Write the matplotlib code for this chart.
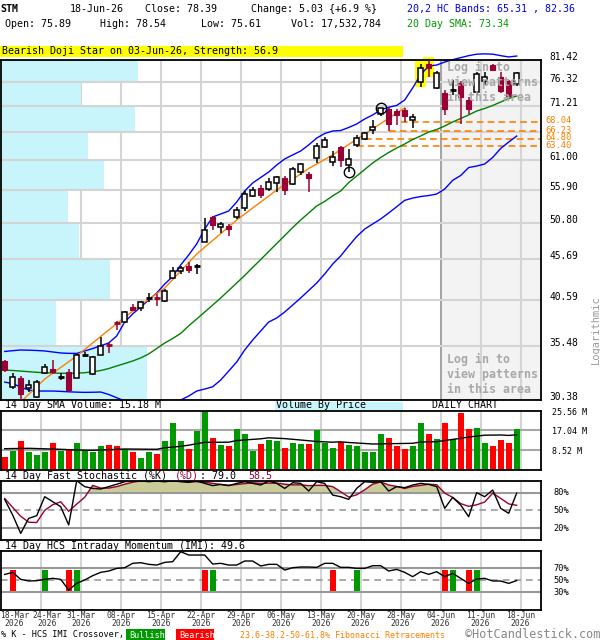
import matplotlib
matplotlib.use("Agg")
import matplotlib.pyplot as plt
import matplotlib.transforms as mtrans
from matplotlib.patches import Rectangle
from matplotlib.ticker import NullLocator
import numpy as np

plt.rcParams['font.family'] = ['DejaVu Sans Mono']

# daily candles 18-Mar-26 .. 18-Jun-26
opens = [34.02, 31.52, 32.38, 31.42, 30.67, 32.83, 33.24, 32.50, 32.98, 32.41,
         34.60, 32.76, 34.62, 35.72, 38.00, 38.05, 39.82, 39.63, 40.86, 40.83,
         40.52, 43.24, 44.20, 44.85, 44.84, 48.07, 51.61, 50.21, 50.31, 51.66,
         52.96, 54.87, 56.21, 55.96, 56.95, 57.87, 56.79, 58.89, 58.50, 61.23,
         63.27, 60.58, 63.27, 59.99, 63.68, 64.69, 66.40, 69.67, 70.58, 70.17,
         70.49, 68.48, 76.33, 80.55, 75.13, 73.90, 74.55, 76.07, 72.44, 74.20,
         76.57, 80.32, 77.56, 76.57, 75.89]
highs = [34.12, 32.88, 32.57, 32.19, 32.19, 33.70, 34.12, 32.85, 33.21, 34.69,
         34.95, 34.47, 36.47, 35.91, 38.23, 39.33, 40.13, 40.52, 41.39, 41.27,
         41.91, 44.72, 44.85, 45.29, 45.03, 51.45, 51.80, 50.87, 50.57, 53.12,
         55.74, 56.39, 56.67, 57.77, 58.21, 58.16, 59.75, 60.44, 58.89, 63.95,
         65.21, 62.45, 63.45, 62.95, 65.44, 66.08, 68.36, 70.91, 70.85, 70.58,
         70.79, 69.59, 80.55, 81.35, 78.80, 74.57, 76.90, 76.57, 73.19, 78.64,
         78.64, 80.55, 78.64, 76.79, 78.54]
lows = [32.95, 31.33, 30.40, 31.11, 30.55, 32.76, 32.73, 32.19, 31.11, 32.35,
        34.39, 32.66, 34.57, 34.79, 37.22, 37.94, 39.33, 39.36, 40.40, 39.94,
        40.33, 43.11, 43.77, 43.86, 43.77, 47.99, 49.73, 49.34, 48.92, 51.35,
        52.55, 54.67, 54.61, 55.74, 55.58, 55.03, 56.67, 58.33, 55.58, 60.33,
        63.09, 59.96, 59.70, 58.90, 63.27, 64.50, 65.75, 69.28, 66.27, 67.50,
        68.02, 66.85, 75.35, 77.49, 74.77, 69.38, 73.55, 67.69, 69.72, 73.55,
        75.65, 78.78, 73.90, 73.19, 75.61]
closes = [33.14, 32.44, 30.91, 31.72, 32.03, 33.40, 32.92, 32.52, 31.27, 34.62,
          34.62, 34.39, 35.56, 35.68, 37.96, 39.18, 39.44, 40.36, 40.88, 40.79,
          41.70, 44.20, 44.59, 44.29, 44.86, 49.73, 50.46, 50.57, 49.83, 52.70,
          55.19, 55.85, 55.03, 57.21, 57.94, 55.85, 59.30, 60.16, 57.77, 63.45,
          64.56, 61.46, 60.88, 61.16, 64.94, 65.94, 66.98, 70.84, 67.69, 69.37,
          69.18, 69.02, 79.58, 79.58, 78.42, 70.72, 74.57, 73.19, 70.72, 78.13,
          77.56, 79.00, 74.42, 73.36, 78.39]

# 20,2 HC bands and 20 day SMA
band_upper = [34.97, 35.05, 35.12, 35.10, 35.07, 35.02, 34.92, 34.82, 34.78, 34.77,
              35.02, 35.27, 35.56, 35.84, 36.58, 38.09, 38.99, 39.78, 40.60, 41.43,
              42.52, 43.46, 44.94, 46.26, 47.76, 49.87, 51.65, 52.10, 52.55, 53.94,
              55.69, 57.00, 57.91, 58.84, 60.05, 61.11, 61.83, 62.54, 63.65, 64.93,
              65.79, 66.27, 66.36, 66.95, 67.63, 68.62, 69.43, 70.43, 71.00, 71.37,
              72.50, 75.09, 78.06, 80.01, 80.24, 80.94, 81.50, 81.97, 82.45, 82.81,
              82.88, 82.81, 82.45, 82.14, 82.36]
band_lower = [32.00, 31.86, 31.54, 31.27, 31.18, 31.18, 31.18, 31.15, 31.11, 31.08,
              31.06, 31.07, 31.09, 30.87, 30.58, 30.30, 30.15, 30.04, 29.95, 29.87,
              29.90, 29.95, 30.38, 30.73, 31.18, 31.36, 31.57, 32.19, 33.04, 33.92,
              35.12, 36.15, 37.11, 38.09, 38.53, 39.21, 40.01, 40.84, 41.73, 42.65,
              43.78, 45.06, 46.13, 47.48, 48.80, 49.87, 50.61, 51.35, 52.25, 53.21,
              54.20, 54.56, 54.80, 54.96, 55.20, 56.01, 57.44, 58.25, 59.61, 59.87,
              60.22, 61.38, 63.00, 64.18, 65.31]
sma20 = [33.14, 33.09, 33.04, 32.98, 32.92, 32.88, 32.85, 32.83, 32.82, 32.85,
         32.88, 32.97, 33.09, 33.28, 33.53, 33.77, 34.02, 34.32, 34.72, 35.27,
         35.84, 36.31, 36.85, 37.67, 38.42, 39.21, 40.01, 40.84, 41.73, 42.65,
         43.59, 44.62, 45.65, 46.73, 47.82, 48.94, 50.09, 51.20, 52.25, 53.32,
         54.03, 54.91, 55.69, 57.07, 58.16, 59.27, 60.40, 61.38, 62.27, 63.08,
         63.82, 64.66, 65.32, 66.08, 66.56, 67.24, 68.03, 68.72, 69.43, 70.23,
         70.74, 71.36, 72.08, 72.82, 73.34]

# orange trend line
trend_idx = [2, 5, 9, 13, 17, 20, 24, 29, 34, 38, 41, 45, 50]
trend_val = [30.20, 32.28, 34.52, 37.22, 40.01, 42.03, 46.38, 51.20, 55.85, 59.44, 61.82, 65.69, 70.88]

# fibonacci retracements
fib_levels = [68.04, 66.23, 64.80, 63.40]
fib_start = [49.5, 48.0, 45.0, 44.0]

# volume (millions) and 14 day SMA volume
volume = [5.73, 8.19, 12.50, 7.76, 6.47, 7.76, 11.78, 8.33, 9.05, 11.78,
          8.33, 7.90, 10.34, 10.92, 10.34, 9.19, 7.90, 5.32, 7.76, 6.90,
          12.50, 20.26, 12.50, 9.05, 16.81, 25.56, 13.93, 10.78, 10.34, 17.67,
          15.52, 8.33, 11.35, 12.93, 12.50, 9.48, 11.78, 11.21, 11.21, 17.24,
          11.78, 9.48, 12.20, 10.78, 10.34, 7.76, 7.76, 15.52, 13.79, 10.34,
          9.05, 10.34, 20.26, 15.52, 13.36, 20.26, 13.36, 24.57, 17.67, 18.10,
          11.78, 10.34, 12.93, 11.78, 17.53]
vsma_idx = [0, 3, 7, 9, 11, 13, 15, 19, 20, 22, 23, 25, 28, 29, 32, 33, 35, 37, 39,
            41, 42, 43, 46, 51, 52, 54, 55, 57, 58, 60, 62, 63, 64]
vsma_val = [9.18, 9.35, 8.92, 8.62, 8.49, 8.75, 9.05, 8.92, 9.57, 10.21, 10.69, 11.94,
            11.98, 12.71, 13.45, 13.88, 13.53, 12.93, 12.28, 11.98, 12.15, 11.85, 11.21,
            11.51, 12.07, 12.20, 12.71, 13.66, 14.22, 15.00, 15.09, 14.90, 15.18]

# volume by price (relative), bins from bottom to top
vbp_edges = [30.38, 35.48, 40.59, 45.69, 50.80, 55.90, 61.00, 66.11, 71.21, 76.32, 81.42]
vbp_rel = [146, 55, 109, 78, 67, 103, 87, 134, 80, 137]
price_labels = ['30.38', '35.48', '40.59', '45.69', '50.80', '55.90', '61.00', '',
                '71.21', '76.32', '81.42']

# 14 day fast stochastic
stoch_k = [68.5, 42, 11.2, 36.5, 41, 73, 64.6, 56.2, 25.3, 100,
           90, 87, 86, 90, 94, 98.3, 100, 100, 98.3, 99.4,
           98.3, 100, 98.3, 97.2, 99.4, 95.5, 91.6, 93.8, 91.6, 95.5,
           98.3, 95.5, 92.7, 99.4, 95.5, 87, 96.6, 95.5, 82.6, 98.3,
           95.5, 75.8, 73, 68.5, 87, 98.3, 97.2, 98.3, 82.6, 90,
           88.2, 92.7, 95.5, 93.8, 90, 53.4, 71.9, 59, 39.3, 79.8,
           73, 84.3, 53.4, 45, 79.0]
stoch_d = [70, 55, 40, 30, 29.5, 50, 59.5, 64.5, 48.5, 60.5,
           72, 92, 87.5, 87.5, 90, 94, 97.5, 99.4, 99.4, 99.2,
           98.7, 99.2, 98.9, 98.5, 98.3, 97.4, 95.5, 93.6, 92.3, 93.6,
           95.1, 96.4, 95.5, 95.9, 95.9, 94, 93, 93, 91.6, 92.1,
           92.1, 89.9, 81.4, 72.4, 76.2, 84.6, 94.2, 97.9, 92.7, 90.3,
           86.9, 90.3, 92.1, 94, 93.1, 79.1, 71.8, 61.4, 56.7, 59.4,
           64, 79, 70.2, 60.9, 58.5]

# 14 day HCS intraday momentum
imi = [60, 63.5, 51.7, 48.9, 49.4, 51.7, 53.4, 51.7, 33.7, 45,
       50.6, 57.9, 63.5, 65.7, 70.2, 71.3, 78.7, 79.8, 77, 75.8,
       80.3, 81.5, 98.3, 92.7, 92.7, 92.7, 77.5, 78.7, 75.8, 75.8,
       82.6, 82.6, 74.2, 77, 77, 67.4, 71.3, 72.5, 72.5, 71.9,
       78.7, 78.7, 71.9, 71.9, 70.2, 70.2, 74.7, 74.7, 65.7, 68.5,
       63.5, 56.2, 64.6, 60.1, 64.6, 56.2, 61.8, 53.4, 44.9, 52.2,
       53.4, 48.9, 48.9, 44.9, 49.6]
cross_bull = [5, 9, 26, 44, 56, 59]
cross_bear = [1, 8, 25, 41, 55, 58]

tick_idx = [4, 9, 14, 19, 24, 29, 34, 39, 44, 49, 54, 59, 64]
tick_lab = ['24-Mar', '31-Mar', '08-Apr', '15-Apr', '22-Apr', '29-Apr', '06-May',
            '13-May', '20-May', '28-May', '04-Jun', '11-Jun', '18-Jun']

W, H = 600, 640
fig = plt.figure(figsize=(6, 6.4), dpi=100)
fig.patch.set_facecolor('white')

RED_D = '#990033'
GRID = '#d4d4d4'
ORANGE = '#ff8000'
XMIN, XMAX = -0.4625, 67.04


def ftext(x, y, s, **kw):
    kw.setdefault('fontsize', 7.2)
    kw.setdefault('va', 'center')
    kw.setdefault('ha', 'left')
    return fig.text(x / W, 1 - y / H, s, **kw)


def frect(x0, y0, x1, y1, color):
    fig.add_artist(Rectangle((x0 / W, 1 - y1 / H), (x1 - x0) / W, (y1 - y0) / H,
                             transform=fig.transFigure, facecolor=color,
                             edgecolor='none', zorder=0))


def add_panel(top, bottom):
    a = fig.add_axes([1 / W, 1 - bottom / H, 540 / W, (bottom - top) / H])
    a.set_xlim(XMIN, XMAX)
    a.set_xticks([])
    a.set_yticks([])
    for s in a.spines.values():
        s.set_linewidth(1.3)
        s.set_color('black')
    for t in tick_idx:
        a.axvline(t + 0.5, color=GRID, lw=1.5, zorder=0.5)
    return a


def rlabel(a, yv, s, dx, dy, **kw):
    kw.setdefault('fontsize', 6.9)
    a.annotate(s, xy=(1, yv), xycoords=('axes fraction', 'data'),
               xytext=(dx, dy), textcoords='offset pixels', ha='left',
               va='center', annotation_clip=False, **kw)


n = len(closes)
idx = np.arange(n)
o, h, l, c = (np.array(v) for v in (opens, highs, lows, closes))
up = c >= o
doji = np.abs(c - o) / o < 0.002

# ---------------- main price panel ----------------
ax = add_panel(60, 400)
ax.set_yscale('log')
ax.set_ylim(vbp_edges[0], vbp_edges[-1])
ax.yaxis.set_major_locator(NullLocator())
ax.yaxis.set_minor_locator(NullLocator())

ax.axvspan(54.5, XMAX, color='#f3f3f3', zorder=0.2)
ax.axvline(54.5, color='#a0a0a0', lw=1.3, zorder=0.6)

bt = mtrans.blended_transform_factory(ax.transAxes, ax.transData)
vmax = max(vbp_rel)
for k, v in enumerate(vbp_rel):
    ax.add_patch(Rectangle((0, vbp_edges[k]), 0.27 * v / vmax,
                           vbp_edges[k + 1] - vbp_edges[k], transform=bt,
                           facecolor='#c8f4fc', edgecolor='none', zorder=0.8))
for p, lab in zip(vbp_edges, price_labels):
    ax.axhline(p, color=GRID, lw=1.5, zorder=0.9)
    if lab:
        rlabel(ax, p, lab, 8, 3)

# bearish doji star highlight
for i in (52, 53):
    ax.add_patch(Rectangle((i - 0.68, l[i]), 1.36, h[i] * 1.009 - l[i],
                           facecolor='yellow', edgecolor='none', zorder=1,
                           clip_on=False))

for lv, st in zip(fib_levels, fib_start):
    ax.plot([st, XMAX], [lv, lv], color=ORANGE, lw=1.2, ls=(0, (4, 2.5)), zorder=1.5)
    rlabel(ax, lv, f'{lv:.2f}', 4, 1, color=ORANGE, fontsize=6.3)

ax.plot(idx, band_upper, color='#0000ff', lw=1, zorder=2, clip_on=False)
ax.plot(idx, band_lower, color='#0000ff', lw=1, zorder=2)
ax.plot(idx, sma20, color='#008000', lw=1, zorder=2)
ax.plot(trend_idx, trend_val, color=ORANGE, lw=1, zorder=2)

for i in range(n):
    col = 'black' if up[i] else RED_D
    ax.vlines(i, l[i], h[i], color=col, lw=1.1, zorder=3)
    if doji[i]:
        ax.hlines(c[i], i - 0.38, i + 0.38, color=col, lw=2, zorder=4)
    elif up[i]:
        ax.bar(i, c[i] - o[i], bottom=o[i], width=0.62, facecolor='white',
               edgecolor='black', lw=1.1, zorder=4)
    else:
        ax.bar(i, o[i] - c[i], bottom=c[i], width=0.62, facecolor=RED_D,
               edgecolor=RED_D, lw=0.8, zorder=4)

# swing low / swing high markers
ax.plot([43], [l[43]], 'o', ms=7.5, mfc='none', mec='black', mew=1, zorder=5)
ax.plot([47], [h[47]], 'o', ms=7.5, mfc='none', mec='black', mew=1, zorder=5)

for yy in (67.3, 359.3):
    for k, line in enumerate(['Log in to', 'view patterns', 'in this area']):
        ftext(446.7, yy + 15 * k, line, fontsize=8.4, fontweight='bold',
              color='#a8a8a8', zorder=10)

# ---------------- volume panel ----------------
axv = add_panel(410.7, 470)
axv.set_ylim(0, 25.56)
for g in (8.52, 17.04):
    axv.axhline(g, color='#a8a8a8', lw=1.5, zorder=0.9)
axv.bar(idx, volume, width=0.75, color=np.where(up, '#009900', '#ff0000'), zorder=2)
axv.plot(vsma_idx, vsma_val, color='black', lw=1, zorder=3)
for g in (25.56, 17.04, 8.52):
    rlabel(axv, g, f'{g:.2f} M', 11, -1.5, fontsize=6.0)

# ---------------- stochastic panel ----------------
axs = add_panel(480.7, 540)
axs.set_ylim(0, 100)
kk, dd = np.array(stoch_k), np.array(stoch_d)
axs.fill_between(idx, 80, dd, where=dd > 80, interpolate=True, color='#cccc99', zorder=1)
axs.axhline(80, color='#999999', lw=1.5, zorder=1.2)
axs.axhline(20, color='#999999', lw=1.5, zorder=1.2)
axs.axhline(50, color='#999999', lw=1.2, ls=(0, (4, 3)), zorder=1.2)
axs.plot(idx, kk, color='black', lw=1, zorder=3)
axs.plot(idx, dd, color=RED_D, lw=1, zorder=2.5)
for g in (80, 50, 20):
    rlabel(axs, g, f'{g}%', 12, 0, fontsize=6.2)

# ---------------- IMI panel ----------------
axi = add_panel(550.7, 610)
axi.set_ylim(0, 100)
axi.axhline(70, color='#999999', lw=1.5, zorder=1.2)
axi.axhline(30, color='#999999', lw=1.5, zorder=1.2)
axi.axhline(50, color='#999999', lw=1.2, ls=(0, (4, 3)), zorder=1.2)
axi.bar(cross_bull, 35.5, bottom=32, width=0.72, color='#009900', zorder=2)
axi.bar(cross_bear, 35.5, bottom=32, width=0.72, color='#ff0000', zorder=2)
axi.plot(idx, imi, color='black', lw=1, zorder=3)
for g in (70, 50, 30):
    rlabel(axi, g, f'{g}%', 12, 0, fontsize=6.2)

# date labels; the first two are nudged apart as in the original
dt = mtrans.blended_transform_factory(axi.transData, fig.transFigure)
for t, lab in zip(tick_idx, tick_lab):
    xl = t + 0.5 + (0.85 if t == tick_idx[0] else 0)
    axi.text(xl, 1 - 616 / H, lab, transform=dt, ha='center', va='center',
             fontsize=5.8, color='#333333')
    axi.text(xl, 1 - 624 / H, '2026', transform=dt, ha='center', va='center',
             fontsize=5.8, color='#333333')
ftext(0, 616, '18-Mar', fontsize=5.8, color='#333333')
ftext(4, 624, '2026', fontsize=5.8, color='#333333')

# ---------------- header and captions ----------------
ftext(0, 9, 'STM', fontweight='bold')
ftext(70, 9, '18-Jun-26')
ftext(145, 9, 'Close: 78.39')
ftext(251, 9, 'Change: 5.03 {+6.9 %}')
ftext(407, 9, '20,2 HC Bands: 65.31 , 82.36', color='#0000ee')
ftext(5, 24, 'Open: 75.89')
ftext(100, 24, 'High: 78.54')
ftext(201, 24, 'Low: 75.61')
ftext(291, 24, 'Vol: 17,532,784')
ftext(407, 24, '20 Day SMA: 73.34', color='#009900')

frect(0, 45.7, 403, 57.3, 'yellow')
ftext(2, 51.5, 'Bearish Doji Star on 03-Jun-26, Strength: 56.9')

ftext(5, 405.5, '14 Day SMA Volume: 15.18 M')
frect(275, 401.7, 403, 410, '#c8f4fc')
ftext(276, 405.5, 'Volume By Price')
ftext(432, 405.5, 'DAILY CHART')

ftext(5, 476, '14 Day Fast Stochastic (%K)')
ftext(175, 476, '(%D)', color=RED_D)
ftext(200, 476, ': 79.0')
ftext(248, 476, '58.5', color=RED_D)

ftext(5, 546, '14 Day HCS Intraday Momentum (IMI): 49.6')

ftext(596, 330, 'Logarithmic', rotation=90, ha='center', fontsize=7.5, color='#999999')

ftext(1, 635, '% K - HCS IMI Crossover,', fontsize=6.1)
frect(126, 629, 165, 641, '#009900')
ftext(129, 635, 'Bullish', fontsize=6.1, color='white')
frect(176, 629, 214, 641, '#ff0000')
ftext(179, 635, 'Bearish', fontsize=6.1, color='white')
ftext(240, 635, '23.6-38.2-50-61.8% Fibonacci Retracements', fontsize=6.0, color=ORANGE)
ftext(465, 635, '\u00a9HotCandlestick.com', fontsize=8.6, color='#888888')

fig.savefig('out.png', dpi=100)
